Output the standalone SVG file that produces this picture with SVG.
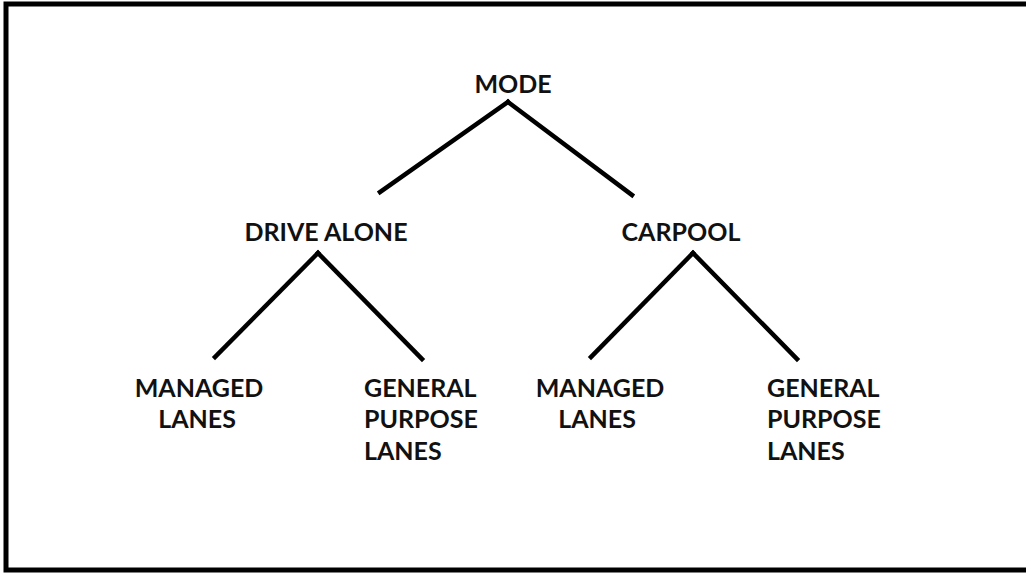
<svg xmlns="http://www.w3.org/2000/svg" width="1026" height="575" viewBox="0 0 1026 575">
<style>
.t{font-family:Lato,"Open Sans","Liberation Sans",sans-serif;font-weight:700;font-size:25px;fill:#111}
.m{text-anchor:middle}
.c line{stroke:#000;stroke-width:4.5;stroke-linecap:square}
</style>
<rect width="1026" height="575" fill="#fff"/>
<rect x="6" y="4" width="1030" height="566" fill="none" stroke="#000" stroke-width="5"/>
<g class="c" id="connectors">
<line x1="508" y1="102" x2="380" y2="192"/>
<line x1="508" y1="102" x2="632" y2="195"/>
<line x1="318" y1="253" x2="215" y2="357"/>
<line x1="318" y1="253" x2="422" y2="359"/>
<line x1="693" y1="253" x2="591" y2="357"/>
<line x1="693" y1="253" x2="797" y2="359"/>
</g>
<g id="mode"><text class="t m" x="513" y="93">MODE</text></g>
<g id="drive-alone"><text class="t m" x="326" y="241">DRIVE ALONE</text></g>
<g id="carpool"><text class="t m" x="681" y="241">CARPOOL</text></g>
<g id="da-managed"><text class="t m" x="199" y="397">MANAGED</text><text class="t m" x="197" y="428">LANES</text></g>
<g id="da-general"><text class="t" x="364" y="397">GENERAL</text><text class="t" x="364" y="428">PURPOSE</text><text class="t" x="364" y="460">LANES</text></g>
<g id="cp-managed"><text class="t m" x="600" y="397">MANAGED</text><text class="t m" x="597" y="428">LANES</text></g>
<g id="cp-general"><text class="t" x="767" y="397">GENERAL</text><text class="t" x="767" y="428">PURPOSE</text><text class="t" x="767" y="460">LANES</text></g>
</svg>
